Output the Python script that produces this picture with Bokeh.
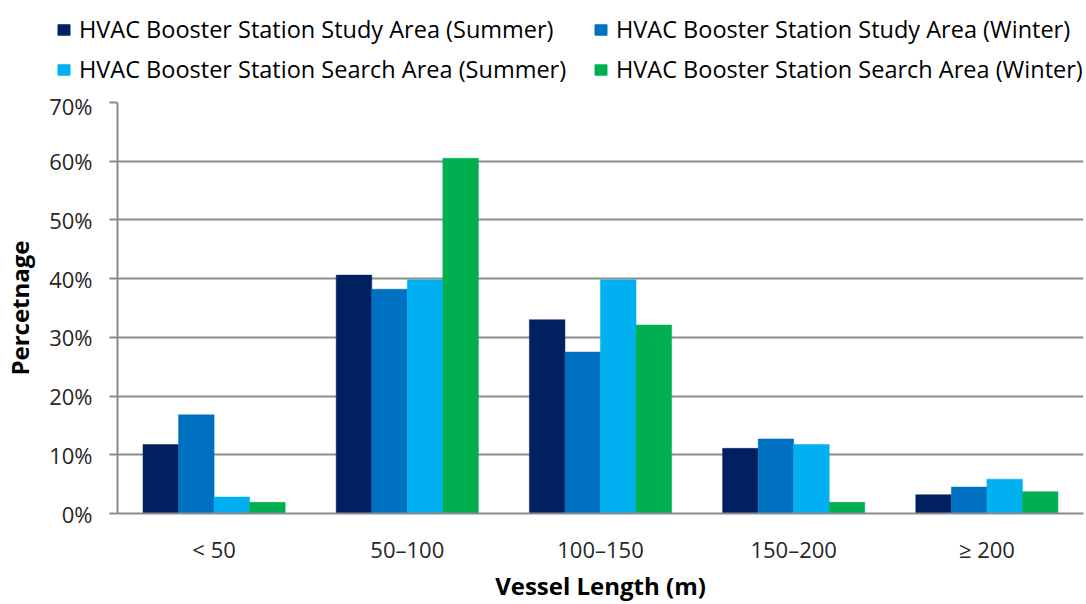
from bokeh.plotting import figure
from bokeh.layouts import column
from bokeh.models import ColumnDataSource, FactorRange, Legend, LegendItem, NumeralTickFormatter, FixedTicker, Range1d
from bokeh.transform import dodge
from bokeh.embed import file_html
from bokeh.resources import INLINE

categories = ["< 50", "50\u2013100", "100\u2013150", "150\u2013200", "\u2265 200"]
study_summer = [0.1175, 0.406, 0.330, 0.111, 0.032]
study_winter = [0.168, 0.382, 0.275, 0.127, 0.045]
search_summer = [0.028, 0.398, 0.398, 0.1175, 0.0585]
search_winter = [0.019, 0.605, 0.321, 0.019, 0.037]
series_names = [
    "HVAC Booster Station Study Area (Summer)",
    "HVAC Booster Station Study Area (Winter)",
    "HVAC Booster Station Search Area (Summer)",
    "HVAC Booster Station Search Area (Winter)",
]
colors = ["#002060", "#0070C0", "#00B0F0", "#00B050"]

FONT = "Open Sans"
src = ColumnDataSource(dict(cat=categories, s0=study_summer, s1=study_winter,
                            s2=search_summer, s3=search_winter))

# legend strip (separate figure so the legend is not clipped by the plot frame)
lg = figure(width=1086, height=90, x_range=Range1d(0, 1), y_range=Range1d(0, 1),
            output_backend="svg", toolbar_location=None,
            x_axis_location=None, y_axis_location=None,
            min_border=0, min_border_left=0, min_border_right=0, min_border_top=0, min_border_bottom=0)
lg.frame_align = False
lg.grid.visible = False
lg.outline_line_color = None
lg_src = ColumnDataSource(dict(x=[5.0], top=[5.0]))  # outside the visible range
dummy = [lg.vbar(x="x", top="top", bottom=4.0, width=0.1, source=lg_src, fill_color=c, line_color=c)
         for c in colors]
items = [LegendItem(label=n, renderers=[r]) for n, r in zip(series_names, dummy)]
legend = Legend(items=items, ncols=2, location=(56, 5), orientation="horizontal",
                glyph_width=15, glyph_height=13, label_standoff=8, spacing=8,
                padding=0, margin=0, label_height=32, label_width=506, border_line_color=None,
                background_fill_alpha=0, label_text_font=FONT, label_text_font_size="23.5px",
                label_text_color="#000000")
lg.add_layout(legend, "center")

p = figure(x_range=FactorRange(*categories, range_padding=0), y_range=(0, 0.7),
           frame_width=966, frame_height=411, output_backend="svg", toolbar_location=None,
           min_border_left=117, min_border_right=3, min_border_top=12, min_border_bottom=88)
p.frame_align = False
p.outline_line_color = None
p.background_fill_color = "white"
p.border_fill_color = "white"

bar_w = 0.184
offsets = [-1.5 * bar_w, -0.5 * bar_w, 0.5 * bar_w, 1.5 * bar_w]
for i, (col, c) in enumerate(zip(["s0", "s1", "s2", "s3"], colors)):
    p.vbar(x=dodge("cat", offsets[i], range=p.x_range), top=col, width=bar_w,
           source=src, fill_color=c, line_color=c, line_width=0.5)

p.yaxis.ticker = FixedTicker(ticks=[0, 0.1, 0.2, 0.3, 0.4, 0.5, 0.6, 0.7])
p.yaxis.formatter = NumeralTickFormatter(format="0%")
p.yaxis.axis_label = "Percetnage"
p.xaxis.axis_label = "Vessel Length (m)"
for ax in (p.xaxis, p.yaxis):
    ax.axis_line_color = "#8c8c8c"
    ax.axis_line_width = 2
    ax.major_label_text_font = FONT
    ax.major_label_text_font_size = "22px"
    ax.major_label_text_color = "#262626"
    ax.axis_label_text_font = FONT
    ax.axis_label_text_font_size = "24px"
    ax.axis_label_text_font_style = "bold"
    ax.axis_label_text_color = "#000000"
    ax.minor_tick_line_color = None
p.yaxis.major_tick_line_color = "#8c8c8c"
p.yaxis.major_tick_line_width = 2
p.yaxis.major_tick_out = 8
p.yaxis.major_tick_in = 0
p.yaxis.major_label_standoff = 17
p.yaxis.axis_label_standoff = 10
p.xaxis.major_tick_line_color = None
p.xaxis.major_label_standoff = 14
p.xaxis.axis_label_standoff = 2
p.xgrid.grid_line_color = None
p.ygrid.grid_line_color = "#8c8c8c"
p.ygrid.grid_line_width = 2

layout = column(lg, p, spacing=0)
open("out.html", "w").write(file_html(layout, INLINE))
